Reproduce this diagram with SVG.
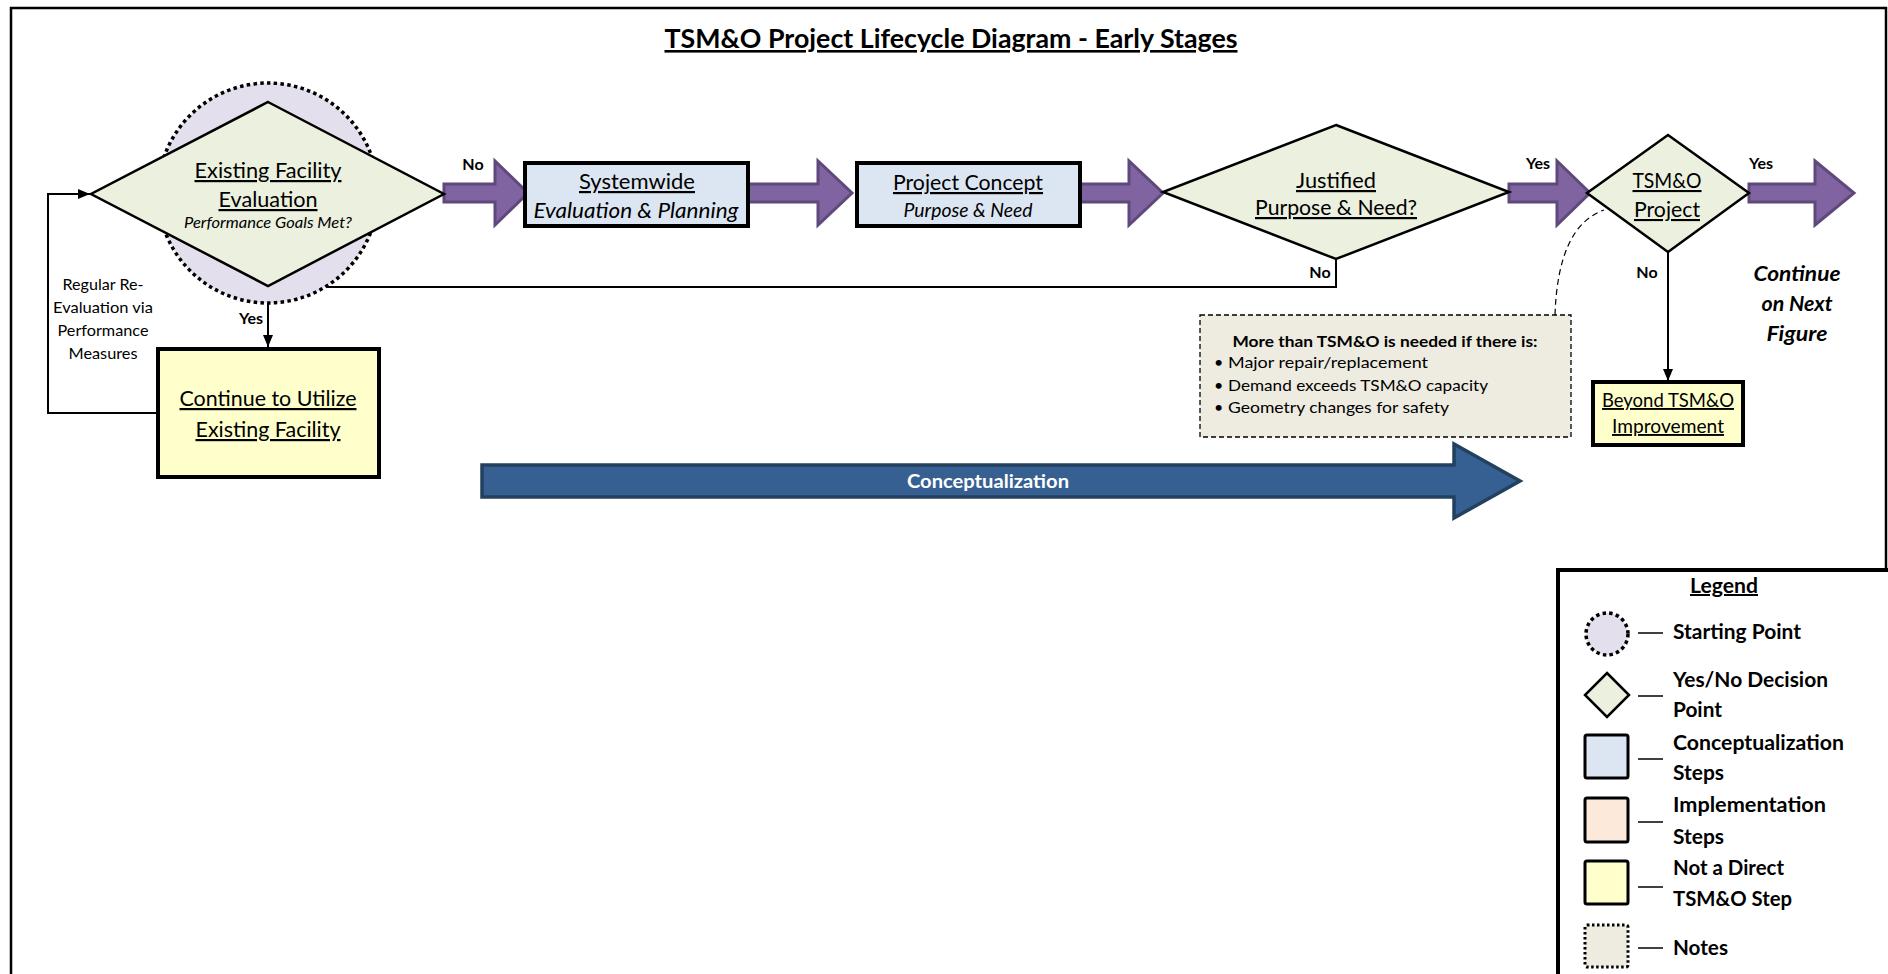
<svg xmlns="http://www.w3.org/2000/svg" width="1888" height="974" viewBox="0 0 1888 974">
<defs>
<style>
text{font-family:Lato,"Open Sans","Liberation Sans",sans-serif;fill:#000}
.c{text-anchor:middle}
.u{text-decoration:underline}
.i{font-style:italic}
.b{font-weight:bold}
.dia{fill:#EBF1DE;stroke:#000;stroke-width:2.5;stroke-linejoin:miter}
.box{stroke:#000;stroke-width:4}
.blue{fill:#DCE6F2}
.yel{fill:#FFFFCC}
.pink{fill:#FDE9D9}
.parrow{fill:#8064A2;stroke:#5F497A;stroke-width:3}
.conn{fill:none;stroke:#000;stroke-width:2}
.lg{font-size:21px;font-weight:bold}
.tick{stroke:#000;stroke-width:1.5}
</style>
<marker id="ah" viewBox="0 0 12 10" refX="12" refY="5" markerWidth="12" markerHeight="10" markerUnits="userSpaceOnUse" orient="auto">
<path d="M0,0 L12,5 L0,10 z" fill="#000"/>
</marker>
</defs>

<rect x="11" y="8" width="1875" height="1000" fill="#fff" stroke="#000" stroke-width="2.5"/>

<text x="951" y="48" class="c b u" font-size="26" textLength="573" lengthAdjust="spacingAndGlyphs">TSM&amp;O Project Lifecycle Diagram - Early Stages</text>

<g id="connectors">
<polygon class="parrow" points="444,184 495,184 495,161 528,193 495,225 495,202 444,202"/>
<polygon class="parrow" points="748,184 818,184 818,161 852,193 818,225 818,202 748,202"/>
<polygon class="parrow" points="1080,184 1129,184 1129,161 1163,193 1129,225 1129,202 1080,202"/>
<polygon class="parrow" points="1509,184 1557,184 1557,161 1590,193 1557,225 1557,202 1509,202"/>
<polygon class="parrow" points="1749,184 1815,184 1815,161 1854,193 1815,225 1815,202 1749,202"/>
<polyline class="conn" points="268,286 268,347" marker-end="url(#ah)"/>
<polyline class="conn" points="1336,259 1336,287 328,287 308,269" marker-end="url(#ah)"/>
<polyline class="conn" points="158,413 48,413 48,194 90,194" marker-end="url(#ah)"/>
<polyline class="conn" points="1668,252 1668,381" marker-end="url(#ah)"/>
<path d="M1555,315 Q1558,226 1604,210" fill="none" stroke="#000" stroke-width="1.2" stroke-dasharray="6 4"/>
<text x="473" y="170" class="c b" font-size="16">No</text>
<text x="251" y="324" class="c b" font-size="16">Yes</text>
<text x="1320" y="278" class="c b" font-size="16">No</text>
<text x="1538" y="169" class="c b" font-size="16">Yes</text>
<text x="1761" y="169" class="c b" font-size="16">Yes</text>
<text x="1647" y="278" class="c b" font-size="16">No</text>
<text class="c" font-size="15"><tspan x="103" y="290" textLength="81" lengthAdjust="spacingAndGlyphs">Regular Re-</tspan><tspan x="103" y="313" textLength="100" lengthAdjust="spacingAndGlyphs">Evaluation via</tspan><tspan x="103" y="336" textLength="91" lengthAdjust="spacingAndGlyphs">Performance</tspan><tspan x="103" y="359" textLength="69" lengthAdjust="spacingAndGlyphs">Measures</tspan></text>
</g>

<g id="start">
<circle cx="268" cy="193" r="110" fill="#E4DFEC" stroke="#000" stroke-width="3.5" stroke-dasharray="3.5 3.3"/>
<polygon class="dia" points="268,102 444,194 268,286 91,194"/>
<text x="268" y="178" class="c u" font-size="22" textLength="147" lengthAdjust="spacingAndGlyphs">Existing Facility</text>
<text x="268" y="207" class="c u" font-size="22" textLength="99" lengthAdjust="spacingAndGlyphs">Evaluation</text>
<text x="268" y="228" class="c i" font-size="16" textLength="168" lengthAdjust="spacingAndGlyphs">Performance Goals Met?</text>
</g>

<g id="systemwide">
<rect class="box blue" x="525" y="163" width="223" height="63"/>
<text x="637" y="189" class="c u" font-size="22" textLength="116" lengthAdjust="spacingAndGlyphs">Systemwide</text>
<text x="636" y="218" class="c i" font-size="21" textLength="205" lengthAdjust="spacingAndGlyphs">Evaluation &amp; Planning</text>
</g>

<g id="concept">
<rect class="box blue" x="857" y="163" width="223" height="63"/>
<text x="968" y="190" class="c u" font-size="22" textLength="150" lengthAdjust="spacingAndGlyphs">Project Concept</text>
<text x="968" y="217" class="c i" font-size="19" textLength="129" lengthAdjust="spacingAndGlyphs">Purpose &amp; Need</text>
</g>

<g id="justified">
<polygon class="dia" points="1336,125 1509,192 1336,259 1163,192"/>
<text x="1336" y="188" class="c u" font-size="22" textLength="80" lengthAdjust="spacingAndGlyphs">Justified</text>
<text x="1336" y="215" class="c u" font-size="22" textLength="162" lengthAdjust="spacingAndGlyphs">Purpose &amp; Need?</text>
</g>

<g id="tsmo">
<polygon class="dia" points="1668,135 1749,193 1668,252 1587,193"/>
<text x="1667" y="188" class="c u" font-size="21" textLength="69" lengthAdjust="spacingAndGlyphs">TSM&amp;O</text>
<text x="1667" y="217" class="c u" font-size="21" textLength="66" lengthAdjust="spacingAndGlyphs">Project</text>
</g>

<g id="continue-next">
<text class="c b i" font-size="20"><tspan x="1797" y="281" textLength="87" lengthAdjust="spacingAndGlyphs">Continue</tspan><tspan x="1797" y="311" textLength="71" lengthAdjust="spacingAndGlyphs">on Next</tspan><tspan x="1797" y="341" textLength="61" lengthAdjust="spacingAndGlyphs">Figure</tspan></text>
</g>

<g id="utilize">
<rect class="box yel" x="158" y="349" width="221" height="128"/>
<text x="268" y="406" class="c u" font-size="22" textLength="177" lengthAdjust="spacingAndGlyphs">Continue to Utilize</text>
<text x="268" y="437" class="c u" font-size="22" textLength="145" lengthAdjust="spacingAndGlyphs">Existing Facility</text>
</g>

<g id="beyond">
<rect class="box yel" x="1593" y="382" width="150" height="63"/>
<text x="1668" y="407" class="c u" font-size="19" textLength="132" lengthAdjust="spacingAndGlyphs">Beyond TSM&amp;O</text>
<text x="1668" y="433" class="c u" font-size="19" textLength="112" lengthAdjust="spacingAndGlyphs">Improvement</text>
</g>

<g id="notes">
<rect x="1200" y="315" width="371" height="122" fill="#EEECE1" stroke="#000" stroke-width="1.3" stroke-dasharray="5 3"/>
<text x="1385" y="347" class="c b" font-size="16" textLength="305" lengthAdjust="spacingAndGlyphs">More than TSM&amp;O is needed if there is:</text>
<text font-size="16"><tspan x="1214" y="368">•</tspan><tspan x="1228" y="368" textLength="200" lengthAdjust="spacingAndGlyphs">Major repair/replacement</tspan></text>
<text font-size="16"><tspan x="1214" y="391">•</tspan><tspan x="1228" y="391" textLength="260" lengthAdjust="spacingAndGlyphs">Demand exceeds TSM&amp;O capacity</tspan></text>
<text font-size="16"><tspan x="1214" y="413">•</tspan><tspan x="1228" y="413" textLength="221" lengthAdjust="spacingAndGlyphs">Geometry changes for safety</tspan></text>
</g>

<g id="conceptualization">
<polygon points="482,465 1454,465 1454,444 1520,481 1454,518 1454,497 482,497" fill="#376092" stroke="#23405F" stroke-width="3.5"/>
<text x="988" y="488" class="c b" font-size="19" fill="#fff" style="fill:#fff" textLength="162" lengthAdjust="spacingAndGlyphs">Conceptualization</text>
</g>

<g id="legend">
<rect x="1558" y="570" width="340" height="420" fill="#fff" stroke="#000" stroke-width="4"/>
<text x="1724" y="593" class="c b u" font-size="20" textLength="68" lengthAdjust="spacingAndGlyphs">Legend</text>
<circle cx="1607" cy="634" r="21" fill="#E4DFEC" stroke="#000" stroke-width="3.5" stroke-dasharray="3.5 3.2"/>
<line class="tick" x1="1638" y1="633" x2="1663" y2="633"/>
<text x="1673" y="639" class="lg" textLength="128" lengthAdjust="spacingAndGlyphs">Starting Point</text>
<polygon class="dia" points="1607,673 1629,695 1607,717 1585,695"/>
<line class="tick" x1="1638" y1="696" x2="1663" y2="696"/>
<text x="1673" y="687" class="lg" textLength="155" lengthAdjust="spacingAndGlyphs">Yes/No Decision</text>
<text x="1673" y="717" class="lg" textLength="49" lengthAdjust="spacingAndGlyphs">Point</text>
<rect x="1585" y="735" width="43" height="43" rx="2" class="blue" stroke="#000" stroke-width="3"/>
<line class="tick" x1="1638" y1="759" x2="1663" y2="759"/>
<text x="1673" y="750" class="lg" textLength="171" lengthAdjust="spacingAndGlyphs">Conceptualization</text>
<text x="1673" y="780" class="lg" textLength="51" lengthAdjust="spacingAndGlyphs">Steps</text>
<rect x="1585" y="798" width="43" height="44" rx="2" class="pink" stroke="#000" stroke-width="3"/>
<line class="tick" x1="1638" y1="822" x2="1663" y2="822"/>
<text x="1673" y="812" class="lg" textLength="153" lengthAdjust="spacingAndGlyphs">Implementation</text>
<text x="1673" y="844" class="lg" textLength="51" lengthAdjust="spacingAndGlyphs">Steps</text>
<rect x="1585" y="861" width="43" height="43" rx="2" class="yel" stroke="#000" stroke-width="3"/>
<line class="tick" x1="1638" y1="887" x2="1663" y2="887"/>
<text x="1673" y="875" class="lg" textLength="111" lengthAdjust="spacingAndGlyphs">Not a Direct</text>
<text x="1673" y="906" class="lg" textLength="119" lengthAdjust="spacingAndGlyphs">TSM&amp;O Step</text>
<rect x="1585" y="925" width="43" height="42" rx="2" fill="#EEECE1" stroke="#000" stroke-width="3" stroke-dasharray="2.5 2.5"/>
<line class="tick" x1="1638" y1="948" x2="1663" y2="948"/>
<text x="1673" y="955" class="lg" textLength="55" lengthAdjust="spacingAndGlyphs">Notes</text>
</g>
</svg>
